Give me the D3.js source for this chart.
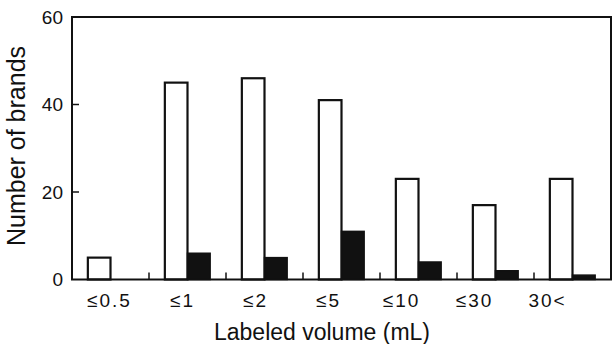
<!DOCTYPE html>
<html>
<head>
<meta charset="utf-8">
<script src="https://cdn.jsdelivr.net/npm/d3@7"></script>
<style>
  html, body { margin: 0; padding: 0; background: #fff; }
  svg { display: block; }
  text { font-family: "Liberation Sans", Arial, Helvetica, sans-serif; fill: #111; }
</style>
</head>
<body>
<svg id="chart" width="613" height="344"></svg>
<script>
const categories = ["≤0.5", "≤1", "≤2", "≤5", "≤10", "≤30", "30<"];
const seriesNames = ["open", "filled"];
const openValues = [5, 45, 46, 41, 23, 17, 23];
const filledValues = [0, 6, 5, 11, 4, 2, 1];
const yTicks = [0, 20, 40, 60];
const xTitle = "Labeled volume (mL)";
const yTitle = "Number of brands";

const svg = d3.select("#chart");
const mLeft = 72, mRight = 611, mTop = 17, mBottom = 279.5;

const x = d3.scaleBand().domain(categories).range([mLeft, mRight]).paddingInner(0).paddingOuter(0);
const xLab = d3.scaleBand().domain(categories).range([mLeft, 583]);
const xs = d3.scaleBand().domain(seriesNames).range([0, x.bandwidth()]).paddingInner(0).paddingOuter(0.7);
const y = d3.scaleLinear().domain([0, 60]).range([mBottom, mTop]);

const rows = categories.map((c, i) => ({ c, open: openValues[i], filled: filledValues[i] }));

// bars
const g = svg.append("g");
rows.forEach(r => {
  g.append("rect")
    .attr("x", x(r.c) + xs("open"))
    .attr("y", y(r.open))
    .attr("width", xs.bandwidth())
    .attr("height", y(0) - y(r.open))
    .attr("fill", "#fff").attr("stroke", "#111").attr("stroke-width", 2.2);
  if (r.filled > 0) {
    g.append("rect")
      .attr("x", x(r.c) + xs("filled"))
      .attr("y", y(r.filled))
      .attr("width", xs.bandwidth())
      .attr("height", y(0) - y(r.filled))
      .attr("fill", "#111").attr("stroke", "#111").attr("stroke-width", 1.5);
  }
});

// frame
svg.append("rect")
  .attr("x", mLeft).attr("y", y(60))
  .attr("width", mRight - mLeft).attr("height", y(0) - y(60))
  .attr("fill", "none").attr("stroke", "#111").attr("stroke-width", 2);

// y ticks (inward)
svg.append("g").selectAll("line").data(yTicks.filter(t => t > 0 && t < 60)).join("line")
  .attr("x1", mLeft).attr("x2", mLeft + 7)
  .attr("y1", d => y(d)).attr("y2", d => y(d))
  .attr("stroke", "#111").attr("stroke-width", 1.5);

// y tick labels
svg.append("g").selectAll("text").data(yTicks).join("text")
  .attr("x", mLeft - 9).attr("y", d => y(d))
  .attr("dy", "0.36em")
  .attr("text-anchor", "end")
  .attr("font-size", 19)
  .text(d => d);

// x ticks at band boundaries (inward)
svg.append("g").selectAll("line").data(categories.slice(1)).join("line")
  .attr("x1", d => x(d)).attr("x2", d => x(d))
  .attr("y1", y(0)).attr("y2", y(0) - 7)
  .attr("stroke", "#111").attr("stroke-width", 1.5);

// x tick labels
svg.append("g").selectAll("text").data(categories).join("text")
  .attr("x", d => xLab(d) + xLab.bandwidth() / 2 + 1)
  .attr("y", 306.5)
  .attr("text-anchor", "middle")
  .attr("font-size", 19)
  .attr("letter-spacing", "2px")
  .text(d => d);

// axis titles
svg.append("text")
  .attr("x", 322).attr("y", 339.5)
  .attr("text-anchor", "middle")
  .attr("font-size", 23)
  .text(xTitle);

svg.append("text")
  .attr("transform", "translate(25,146) rotate(-90)")
  .attr("text-anchor", "middle")
  .attr("font-size", 25)
  .text(yTitle);
</script>
</body>
</html>
